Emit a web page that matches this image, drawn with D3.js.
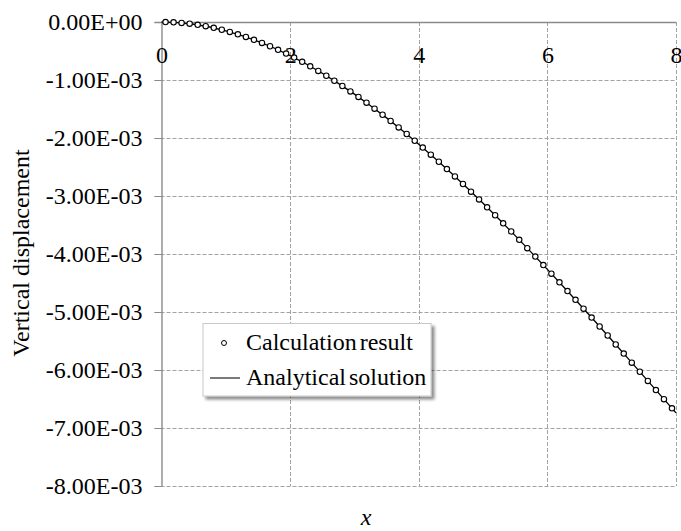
<!DOCTYPE html>
<html>
<head>
<meta charset="utf-8">
<script src="https://cdn.jsdelivr.net/npm/d3@7"></script>
<style>
  html, body { margin: 0; padding: 0; background: #fff; }
  svg { display: block; }
  text { font-family: "Liberation Serif", "Times New Roman", Tinos, "DejaVu Serif", serif; fill: #000; }
</style>
</head>
<body>
<svg id="chart" width="681" height="531"></svg>
<script>
// Calculated nodal results (x position along the beam, vertical displacement)
const calcX = [
  0.0625, 0.1875, 0.3125, 0.4375, 0.5625, 0.6875, 0.8125, 0.9375,
  1.0625, 1.1875, 1.3125, 1.4375, 1.5625, 1.6875, 1.8125, 1.9375,
  2.0625, 2.1875, 2.3125, 2.4375, 2.5625, 2.6875, 2.8125, 2.9375,
  3.0625, 3.1875, 3.3125, 3.4375, 3.5625, 3.6875, 3.8125, 3.9375,
  4.0625, 4.1875, 4.3125, 4.4375, 4.5625, 4.6875, 4.8125, 4.9375,
  5.0625, 5.1875, 5.3125, 5.4375, 5.5625, 5.6875, 5.8125, 5.9375,
  6.0625, 6.1875, 6.3125, 6.4375, 6.5625, 6.6875, 6.8125, 6.9375,
  7.0625, 7.1875, 7.3125, 7.4375, 7.5625, 7.6875, 7.8125, 7.9375
];
const calcY = [
  -0.0006e-3, -0.0055e-3, -0.0152e-3, -0.0297e-3, -0.0488e-3, -0.0725e-3, -0.1008e-3, -0.1334e-3,
  -0.1704e-3, -0.2117e-3, -0.2572e-3, -0.3069e-3, -0.3606e-3, -0.4182e-3, -0.4798e-3, -0.5451e-3,
  -0.6142e-3, -0.6870e-3, -0.7634e-3, -0.8432e-3, -0.9265e-3, -1.0132e-3, -1.1031e-3, -1.1963e-3,
  -1.2925e-3, -1.3918e-3, -1.4941e-3, -1.5993e-3, -1.7073e-3, -1.8180e-3, -1.9314e-3, -2.0473e-3,
  -2.1658e-3, -2.2867e-3, -2.4099e-3, -2.5355e-3, -2.6632e-3, -2.7931e-3, -2.9250e-3, -3.0588e-3,
  -3.1946e-3, -3.3321e-3, -3.4714e-3, -3.6124e-3, -3.7549e-3, -3.8990e-3, -4.0444e-3, -4.1913e-3,
  -4.3394e-3, -4.4886e-3, -4.6391e-3, -4.7905e-3, -4.9429e-3, -5.0962e-3, -5.2503e-3, -5.4052e-3,
  -5.5607e-3, -5.7167e-3, -5.8733e-3, -6.0303e-3, -6.1877e-3, -6.3453e-3, -6.5031e-3, -6.6610e-3
];

// Analytical deflection curve
const exactX = [
  0, 0.25, 0.5, 0.75, 1, 1.25, 1.5, 1.75, 2, 2.25, 2.5, 2.75, 3, 3.25, 3.5, 3.75,
  4, 4.25, 4.5, 4.75, 5, 5.25, 5.5, 5.75, 6, 6.25, 6.5, 6.75, 7, 7.25, 7.5, 7.75, 8
];
const exactY = [
  0, -0.0098e-3, -0.0387e-3, -0.0861e-3, -0.1514e-3, -0.2340e-3, -0.3332e-3, -0.4485e-3,
  -0.5792e-3, -0.7247e-3, -0.8845e-3, -1.0578e-3, -1.2440e-3, -1.4426e-3, -1.6529e-3, -1.8743e-3,
  -2.1063e-3, -2.3480e-3, -2.5991e-3, -2.8588e-3, -3.1265e-3, -3.4016e-3, -3.6835e-3, -3.9716e-3,
  -4.2652e-3, -4.5637e-3, -4.8666e-3, -5.1732e-3, -5.4829e-3, -5.7950e-3, -6.1090e-3, -6.4242e-3,
  -6.7400e-3
];

const xTicks = [0, 2, 4, 6, 8];
const xTickLabels = ["0", "2", "4", "6", "8"];
const yTicks = [0, -1e-3, -2e-3, -3e-3, -4e-3, -5e-3, -6e-3, -7e-3, -8e-3];
const yTickLabels = ["0.00E+00", "-1.00E-03", "-2.00E-03", "-3.00E-03", "-4.00E-03",
                     "-5.00E-03", "-6.00E-03", "-7.00E-03", "-8.00E-03"];
const seriesNames = ["Calculation result", "Analytical solution"];
const xTitle = "x";
const yTitle = "Vertical displacement";

const svg = d3.select("#chart");
const FONT = 24;
const FAMILY = '"Liberation Serif", "Times New Roman", Tinos, "DejaVu Serif", serif';
const plot = { left: 161.5, right: 676, top: 22, bottom: 486 };

const x = d3.scaleLinear().domain([0, 8]).range([plot.left, plot.right]);
const y = d3.scaleLinear().domain([-8e-3, 0]).range([plot.bottom, plot.top]);

svg.append("rect").attr("width", 681).attr("height", 531).attr("fill", "#fff");

// dashed gridlines
const grid = svg.append("g").attr("stroke", "#a3a3a3").attr("stroke-width", 1)
  .attr("stroke-dasharray", "4,2").attr("fill", "none");
grid.selectAll("line.h").data(yTicks.slice(1)).join("line")
  .attr("class", "h")
  .attr("x1", plot.left - 7).attr("x2", plot.right)
  .attr("y1", d => Math.round(y(d)) + 0.5).attr("y2", d => Math.round(y(d)) + 0.5);
grid.selectAll("line.v").data(xTicks.slice(1)).join("line")
  .attr("class", "v")
  .attr("x1", d => Math.round(x(d)) + 0.5).attr("x2", d => Math.round(x(d)) + 0.5)
  .attr("y1", plot.top).attr("y2", plot.bottom);

// vertical axis
const yAxis = d3.axisLeft(y).tickValues(yTicks)
  .tickFormat((d, i) => yTickLabels[i]).tickSize(7).tickSizeOuter(0).tickPadding(12);
const gy = svg.append("g").attr("transform", `translate(${plot.left},0)`).call(yAxis)
  .attr("font-family", FAMILY).attr("font-size", FONT);
gy.select(".domain").attr("stroke", "#8a8a8a").attr("stroke-width", 1.4);
gy.selectAll(".tick line").attr("stroke", "#8a8a8a").attr("stroke-width", 1);
gy.selectAll(".tick text").attr("fill", "#000");

// horizontal axis along y = 0, labels drawn just under it
const xAxis = d3.axisBottom(x).tickValues(xTicks)
  .tickFormat((d, i) => xTickLabels[i]).tickSize(0).tickSizeOuter(0).tickPadding(0);
const gx = svg.append("g").attr("transform", `translate(0,${plot.top})`).call(xAxis)
  .attr("font-family", FAMILY).attr("font-size", FONT);
gx.select(".domain").attr("stroke", "#8a8a8a").attr("stroke-width", 1.4)
  .attr("d", `M${plot.left - 7},0.5H${plot.right}`);
gx.selectAll(".tick text").attr("fill", "#000").attr("y", 41).attr("dy", null);

// axis titles
svg.append("text")
  .attr("transform", `translate(29,253) rotate(-90)`)
  .attr("text-anchor", "middle").attr("font-size", FONT)
  .text(yTitle);
svg.append("text")
  .attr("x", 366).attr("y", 525)
  .attr("text-anchor", "middle").attr("font-size", FONT).attr("font-style", "italic")
  .text(xTitle);

// analytical line
const line = d3.line().x(d => x(d[0])).y(d => y(d[1]));
svg.append("path")
  .datum(exactX.map((v, i) => [v, exactY[i]]))
  .attr("d", line).attr("fill", "none").attr("stroke", "#000").attr("stroke-width", 1.3);

// calculated points
svg.append("g").selectAll("circle")
  .data(calcX.map((v, i) => [v, calcY[i]]))
  .join("circle")
  .attr("cx", d => x(d[0])).attr("cy", d => y(d[1])).attr("r", 2.7)
  .attr("fill", "#fff").attr("stroke", "#000").attr("stroke-width", 1.1);

// legend
const defs = svg.append("defs");
const f = defs.append("filter").attr("id", "shadow")
  .attr("x", "-10%").attr("y", "-10%").attr("width", "130%").attr("height", "140%");
f.append("feDropShadow").attr("dx", 3).attr("dy", 3).attr("stdDeviation", 1.6)
  .attr("flood-color", "#000").attr("flood-opacity", 0.45);

const lg = svg.append("g").attr("transform", "translate(203,323.5)");
lg.append("rect").attr("width", 228).attr("height", 72.5)
  .attr("fill", "#fff").attr("stroke", "#c8c8c8").attr("stroke-width", 1)
  .attr("filter", "url(#shadow)");
lg.append("circle").attr("cx", 21).attr("cy", 19.5).attr("r", 2.5)
  .attr("fill", "#fff").attr("stroke", "#000").attr("stroke-width", 1);
lg.append("line").attr("x1", 7).attr("x2", 37).attr("y1", 54.5).attr("y2", 54.5)
  .attr("stroke", "#333").attr("stroke-width", 1.3);
lg.selectAll("text.lab").data(seriesNames).join("text")
  .attr("class", "lab")
  .attr("x", 43).attr("y", (d, i) => 26.5 + i * 34.5)
  .attr("font-size", FONT).attr("word-spacing", -3)
  .text(d => d);
</script>
</body>
</html>
